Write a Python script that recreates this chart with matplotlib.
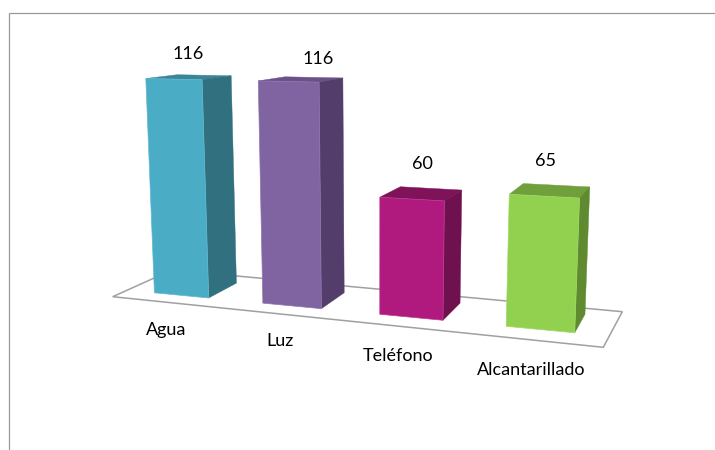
import numpy as np
import matplotlib
matplotlib.use('Agg')
import matplotlib.pyplot as plt
from matplotlib.patches import Polygon

categories = ['Agua', 'Luz', 'Teléfono', 'Alcantarillado']
values = [116, 116, 60, 65]
value_labels = ['116', '116', '60', '65']

front_colors = ['#4BACC6', '#8064A2', '#B01A7E', '#92D050']
side_colors = ['#31707F', '#533E6B', '#6F104F', '#5F8A30']
top_colors = ['#3A8599', '#6A5289', '#7F1359', '#6FA03B']
edge_colors = ['#5FB8D0', '#8E75AE', '#BC3A90', '#A0DA64']

# Perspective camera: (category, depth, value, 1) -> homogeneous pixel
CAMERA = np.array([
    [99.85193, 39.91804, -0.1218614, 181.3213],
    [-0.6595696, 0.2579396, -1.88992, 295.3581],
    [-0.03655458, 0.05277605, -0.0003227047, 1.0],
])
BAR_WIDTH = 0.51
FLOOR = [(-0.5193, -0.4306), (3.4976, -0.5448), (3.5204, 1.3246), (-0.5158, 1.4729)]
VALUE_LABEL_POS = [(188, 54), (318, 59), (422, 164), (546, 161)]
CATEGORY_LABEL_POS = [(166, 330), (280, 341), (398, 356), (531, 370)]


def proj(x, z, v):
    h = CAMERA @ np.array([x, z, v, 1.0])
    return h[0] / h[2], h[1] / h[2]


plt.rcParams['font.family'] = ['Lato', 'DejaVu Sans']
fig = plt.figure(figsize=(7.15, 4.5), dpi=100)
ax = fig.add_axes([0, 0, 1, 1])
ax.set_xlim(0, 715)
ax.set_ylim(450, 0)
ax.axis('off')

ax.plot([8.5, 8.5, 715], [450, 12.5, 12.5], color='#999999', lw=0.9, solid_joinstyle='miter')

ax.add_patch(Polygon([proj(x, z, 0) for x, z in FLOOR], fc='white', ec='#a0a0a0', lw=1.1))

for i, v in enumerate(values):
    l, r = i - BAR_WIDTH / 2, i + BAR_WIDTH / 2
    ax.add_patch(Polygon([proj(l, 0, v), proj(r, 0, v), proj(r, 1, v), proj(l, 1, v)],
                         fc=top_colors[i], ec=top_colors[i], lw=0.3))
    ax.add_patch(Polygon([proj(r, 0, 0), proj(r, 1, 0), proj(r, 1, v), proj(r, 0, v)],
                         fc=side_colors[i], ec=side_colors[i], lw=0.3))
    ax.add_patch(Polygon([proj(l, 0, 0), proj(r, 0, 0), proj(r, 0, v), proj(l, 0, v)],
                         fc=front_colors[i], ec=edge_colors[i], lw=0.5))

for (x, y), s in zip(VALUE_LABEL_POS, value_labels):
    ax.text(x, y, s, ha='center', va='center', fontsize=13, color='black')
for (x, y), s in zip(CATEGORY_LABEL_POS, categories):
    ax.text(x, y, s, ha='center', va='center', fontsize=13, color='black')

fig.savefig('out.png', dpi=100)
